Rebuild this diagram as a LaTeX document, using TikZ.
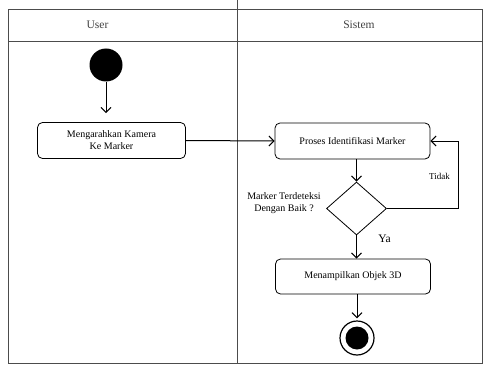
\documentclass[tikz,border=0pt]{standalone}
\usepackage{fontspec}
\setmainfont{Liberation Serif}
\usetikzlibrary{arrows.meta, positioning, shapes.geometric}

\tikzset{
	aksi/.style={draw, rounded corners=5pt, line width=0.8pt, align=center, minimum width=155pt, minimum height=36pt, font=\fontsize{10}{12}\selectfont},
	keputusan/.style={draw, diamond, line width=0.8pt, inner sep=0pt, minimum width=60pt, minimum height=53pt},
	panah/.style={-{Straight Barb[length=5pt, width=10pt]}, line width=1pt},
	garis/.style={draw=black!70, line width=0.8pt}
}

\begin{document}
\begin{tikzpicture}[x=1pt, y=-1pt]
				\useasboundingbox (0, 0) rectangle (486, 366);

				% swimlanes
				\draw[garis] (8, 9) rectangle (482, 363);
				\draw[garis] (8, 41) -- (482, 41);
				\draw[garis] (237, 0) -- (237, 363);
				\node[font=\fontsize{11.5}{13}\selectfont, text=black!75] (laneuser) at (97.5, 25) {User};
				\node[font=\fontsize{11.5}{13}\selectfont, text=black!75] (lanesistem) at (359, 25) {Sistem};

				% user
				\node[circle, fill=black, minimum size=33pt, inner sep=0pt] (start) at (106, 65) {};
				\node[aksi, minimum width=148pt] (mengarahkan) at (111.5, 140.5) {Mengarahkan Kamera\\Ke Marker};

				% sistem
				\node[aksi] (proses) at (352.5, 141) {Proses Identifikasi Marker};
				\node[keputusan] (cek) at (356.5, 208.5) {};
				\node[align=center, font=\fontsize{10}{11.5}\selectfont] (tanya) at (284, 203) {Marker Terdeteksi\\Dengan Baik ?};
				\node[aksi, minimum height=35pt] (tampil) at (353, 276.5) {Menampilkan Objek 3D};
				\node[circle, draw, line width=1.2pt, minimum size=34pt, inner sep=0pt] (finish) at (357, 338) {};
				\node[circle, fill=black, minimum size=23pt, inner sep=0pt] (finishdot) at (finish) {};
				\coordinate (belok) at (458, 208.5);

				\draw[panah, shorten >=9pt] (start) -- (start |- mengarahkan.north);
				\draw[panah] (mengarahkan.east) -- (proses.west);
				\draw[panah] (proses.south -| cek) -- (cek.north);
				\draw[panah] (cek.east) -- (belok) |- (proses.east);
				\node[font=\fontsize{9}{10}\selectfont] (tidak) at (439.5, 176) {Tidak};
				\draw[panah] (cek.south) -- (cek |- tampil.north);
				\node[font=\fontsize{11.5}{12}\selectfont] (ya) at (384.5, 239) {Ya};
				\draw[panah, shorten >=2pt] (tampil.south -| finish) -- (finish.north);
			\end{tikzpicture}
\end{document}
